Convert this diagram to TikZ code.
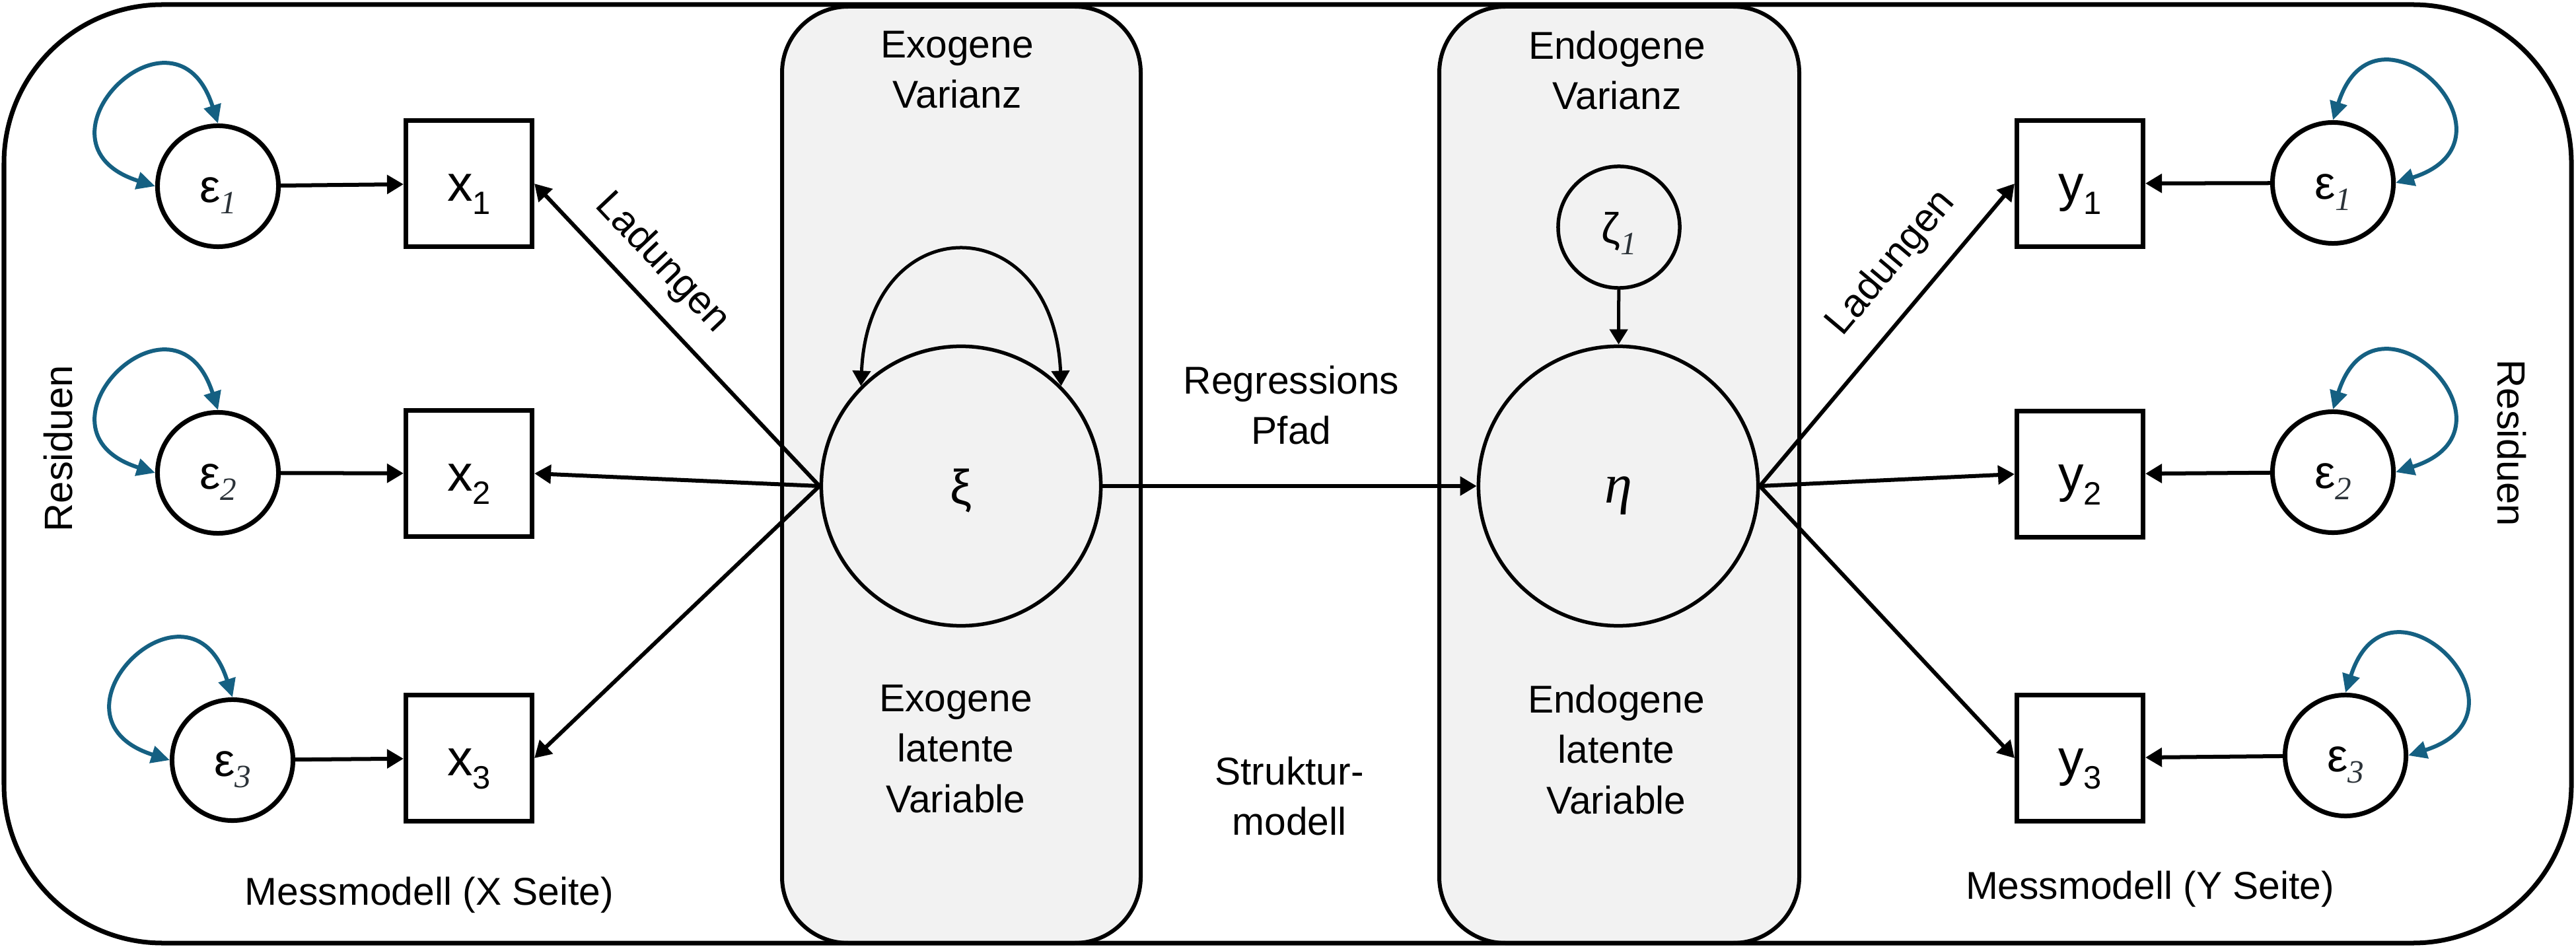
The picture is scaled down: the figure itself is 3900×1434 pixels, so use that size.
\documentclass[tikz,border=0pt]{standalone}
\usepackage{fontspec}
\setmainfont{Liberation Sans}
\newfontfamily\serifit{Liberation Serif}
\usetikzlibrary{arrows.meta}
\definecolor{loopblue}{HTML}{156082}
\definecolor{panelgray}{HTML}{F2F2F2}
\definecolor{subgray}{HTML}{2B3238}
\newcommand\esub[1]{\raisebox{-0.17cm}{\fontsize{14pt}{14pt}\selectfont\serifit\itshape\color{subgray}#1}}
\newcommand\xsub[1]{\raisebox{-0.2cm}{\fontsize{13.9pt}{13.9pt}\selectfont #1}}
\tikzset{
  resid/.style={circle, draw, line width=0.07cm, minimum size=1.83cm, inner sep=0pt,
    text height=0.55cm, text depth=0.07cm, font=\fontsize{20pt}{20pt}\selectfont},
  obs/.style={rectangle, draw, line width=0.07cm, minimum size=1.91cm, inner sep=0pt,
    text height=0.6cm, text depth=0.08cm, font=\fontsize{21.9pt}{21.9pt}\selectfont},
  latent/.style={circle, draw, line width=0.055cm, minimum size=4.23cm, fill=panelgray, inner sep=0pt},
  panel/.style={draw, line width=0.06cm, fill=panelgray, rounded corners=1cm},
  lbl/.style={font=\fontsize{16.7pt}{21.8pt}\selectfont, align=center, inner sep=0pt, anchor=north},
  side/.style={font=\fontsize{17pt}{17pt}\selectfont, inner sep=0pt},
  conn/.style={line width=0.06cm, -{Triangle[length=0.25cm,width=0.28cm]}},
  conninv/.style={line width=0.06cm, {Triangle[length=0.25cm,width=0.28cm]}-},
  varloop/.style={line width=0.06cm, draw=loopblue,
    {Triangle[length=0.28cm,width=0.26cm]}-{Triangle[length=0.28cm,width=0.26cm]}},
  thinarrow/.style={line width=0.05cm, -{Triangle[length=0.23cm,width=0.27cm]}},
  thinloop/.style={line width=0.05cm,
    {Triangle[length=0.23cm,width=0.27cm]}-{Triangle[length=0.23cm,width=0.27cm]}},
}
\begin{document}
\begin{tikzpicture}[x=0.01cm,y=-0.01cm]
\useasboundingbox (0,0) rectangle (3900,1434);
\fill[white] (0,0) rectangle (3900,1434);
% panels
\draw[panel] (1184,10) rectangle (1727,1428);
\draw[panel] (2179,10) rectangle (2724,1428);
% outer frame
\draw[line width=0.07cm, rounded corners=2.4cm] (6,7) rectangle (3893,1428);

% X side
\node[resid] (ex1) at (330,282) {ε\esub{1}};
\node[resid] (ex2) at (330,716) {ε\esub{2}};
\node[resid] (ex3) at (352,1151) {ε\esub{3}};
\node[obs] (x1) at (710,278) {x\xsub{1}};
\node[obs] (x2) at (710,717) {x\xsub{2}};
\node[obs] (x3) at (710,1148) {x\xsub{3}};

% latent variables
\node[latent, font=\fontsize{21pt}{21pt}\selectfont, text height=0.62cm, text depth=0.08cm] (xi) at (1455,736) {ξ};
\node[latent, font=\fontsize{24pt}{24pt}\selectfont\serifit\itshape, text height=0.58cm, text depth=0.08cm] (eta) at (2450,736) {η};
\node[resid, line width=0.055cm, minimum size=1.84cm, font=\fontsize{18.5pt}{18.5pt}\selectfont,
  text height=0.55cm, text depth=0.07cm] (zeta) at (2451,344) {ζ\esub{1}};

% Y side
\node[obs] (y1) at (3149,278) {y\xsub{1}};
\node[obs] (y2) at (3149,718) {y\xsub{2}};
\node[obs] (y3) at (3149,1148) {y\xsub{3}};
\node[resid] (ey1) at (3532,277) {ε\esub{1}};
\node[resid] (ey2) at (3532,715) {ε\esub{2}};
\node[resid] (ey3) at (3551,1144) {ε\esub{3}};

% residual variances
\draw[varloop] (ex1.north) .. controls +(-65,-205) and +(-205,-65) .. (ex1.west);
\draw[varloop] (ex2.north) .. controls +(-65,-205) and +(-205,-65) .. (ex2.west);
\draw[varloop] (ex3.north) .. controls +(-65,-205) and +(-205,-65) .. (ex3.west);
\draw[varloop] (ey1.north) .. controls +(65,-205) and +(205,-65) .. (ey1.east);
\draw[varloop] (ey2.north) .. controls +(65,-205) and +(205,-65) .. (ey2.east);
\draw[varloop] (ey3.north) .. controls +(65,-205) and +(205,-65) .. (ey3.east);

% residual to indicator
\draw[conn] (ex1) -- (x1);
\draw[conn] (ex2) -- (x2);
\draw[conn] (ex3) -- (x3);
\draw[conn] (ey1) -- (y1);
\draw[conn] (ey2) -- (y2);
\draw[conn] (ey3) -- (y3);

% loadings
\draw[conninv] (x1.east) -- node[side, sloped, pos=0.35, above=0.27cm] {Ladungen} (xi.west);
\draw[conninv] (x2.east) -- (xi.west);
\draw[conninv] (x3.east) -- (xi.west);
\draw[conn] (eta.east) -- node[side, sloped, pos=0.645, above=0.34cm] {Ladungen} (y1.west);
\draw[conn] (eta.east) -- (y2.west);
\draw[conn] (eta.east) -- (y3.west);

% structural part
\draw[conn] (xi) -- (eta);
\draw[thinarrow] (zeta) -- (eta);
\draw[thinloop] (xi.135) .. controls +(12,-272) and +(-12,-272) .. (xi.45);

% labels
\node[lbl] (exvar) at (1449,46) {Exogene\\Varianz};
\node[lbl] (envar) at (2448,46) {Endogene\\Varianz};
\node[lbl] (exlat) at (1447,1036) {Exogene\\latente\\Variable};
\node[lbl] (enlat) at (2447,1036) {Endogene\\latente\\Variable};
\node[lbl] (reg) at (1955,553) {Regressions\\Pfad};
\node[lbl] (struk) at (1952,1145) {Struktur-\\modell};
\node[lbl] (mx) at (650,1327) {Messmodell (X Seite)};
\node[lbl] (my) at (3255,1318) {Messmodell (Y Seite)};
\node[side, rotate=90] (resl) at (88,679) {Residuen};
\node[side, rotate=-90] (resr) at (3803,671) {Residuen};
\end{tikzpicture}
\end{document}
